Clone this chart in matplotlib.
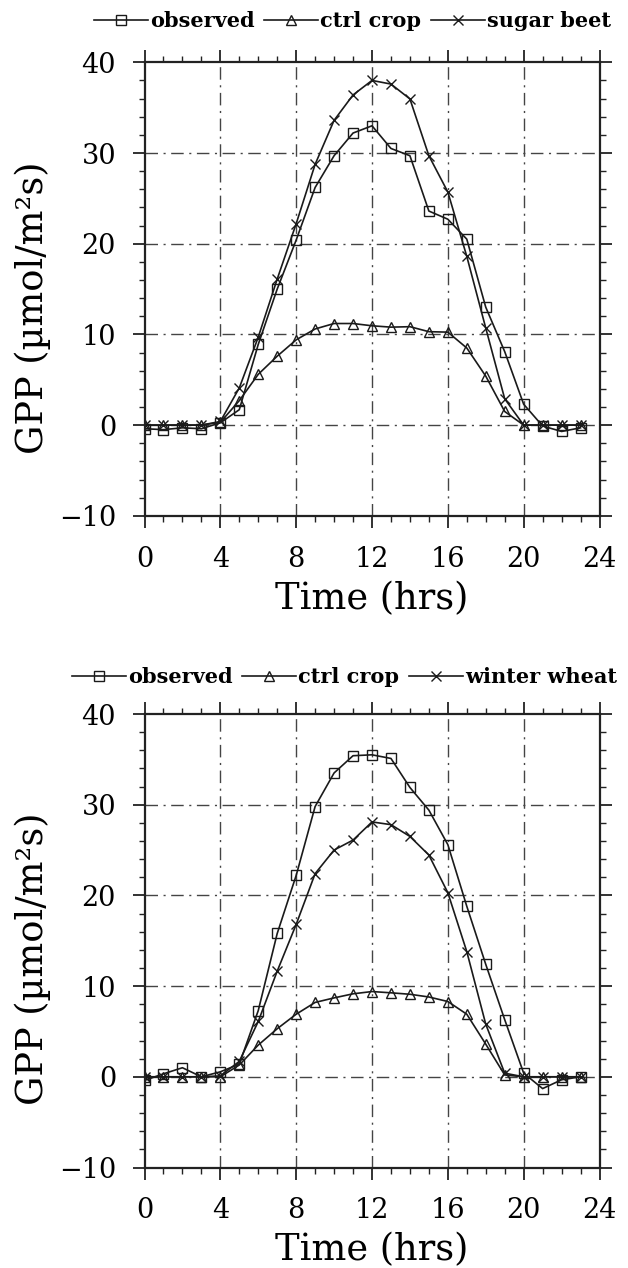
import numpy as np
import matplotlib
matplotlib.use("Agg")
import matplotlib.pyplot as plt
from matplotlib.ticker import MultipleLocator

# hourly values
hours = list(range(24))

obs_top = [-0.4, -0.5, -0.3, -0.4, 0.25, 1.7, 8.9, 15.0, 20.4, 26.2, 29.7, 32.2,
           33.0, 30.5, 29.7, 23.6, 22.7, 20.5, 13.0, 8.1, 2.3, -0.1, -0.7, -0.3]
ctrl_top = [0, 0, 0, 0, 0.3, 2.7, 5.6, 7.6, 9.4, 10.6, 11.2, 11.2,
            10.95, 10.8, 10.85, 10.3, 10.25, 8.5, 5.4, 1.5, 0, 0, 0, 0]
beet = [0, 0, 0, 0, 0.4, 4.1, 9.7, 16.1, 22.2, 28.75, 33.6, 36.4,
        38.0, 37.6, 35.96, 29.7, 25.7, 18.6, 10.7, 2.9, 0, 0, 0, 0]

obs_bot = [-0.4, 0.33, 1.0, 0.0, 0.55, 1.4, 7.3, 15.8, 22.2, 29.8, 33.5, 35.4,
           35.5, 35.1, 31.9, 29.4, 25.6, 18.8, 12.4, 6.3, 0.4, -1.3, -0.33, 0.0]
ctrl_bot = [0, 0, 0, 0, 0, 1.3, 3.5, 5.3, 6.9, 8.2, 8.7, 9.15,
            9.4, 9.26, 9.1, 8.8, 8.3, 6.9, 3.6, 0.2, 0, 0, 0, 0]
wheat = [0, 0, 0, 0, 0.1, 1.7, 6.1, 11.65, 16.8, 22.4, 25.0, 26.1,
         28.1, 27.8, 26.5, 24.45, 20.3, 13.8, 5.8, 0.4, 0, 0, 0, 0]

panels = [
    (obs_top, ctrl_top, beet, "sugar beet"),
    (obs_bot, ctrl_bot, wheat, "winter wheat"),
]

plt.rcParams['font.family'] = ['DejaVu Serif']

W, H = 628, 1268
fig = plt.figure(figsize=(W / 100, H / 100), dpi=100)

ax_left, ax_w = 144.5 / W, 455.0 / W
ax_h = 453.5 / H
tops = [62.3, 714.0]
legend_y = [21, 677]
legend_x = [611, 617]

line_kw = dict(color='#1a1a1a', lw=1.2, mfc='none', mec='#1a1a1a', mew=1.0)

for i, (obs, ctrl, crop, crop_name) in enumerate(panels):
    top_px = tops[i]
    ax = fig.add_axes([ax_left, 1 - (top_px + 453.5) / H, ax_w, ax_h])

    ax.plot(hours, obs, marker='s', ms=6.5, label='observed', **line_kw)
    ax.plot(hours, ctrl, marker='^', ms=7, label='ctrl crop', **line_kw)
    ax.plot(hours, crop, marker='x', ms=7.5, label=crop_name, **line_kw)

    ax.set_xlim(0, 24)
    ax.set_ylim(-10, 40)
    ax.xaxis.set_major_locator(MultipleLocator(4))
    ax.xaxis.set_minor_locator(MultipleLocator(1))
    ax.yaxis.set_major_locator(MultipleLocator(10))
    ax.yaxis.set_minor_locator(MultipleLocator(2))

    # dash-dot grid only inside the frame
    for gx in [4, 8, 12, 16, 20]:
        ax.axvline(gx, color='#444444', lw=1.0, dashes=(9, 4, 1.5, 4), zorder=0.5)
    for gy in [0, 10, 20, 30]:
        ax.axhline(gy, color='#444444', lw=1.0, dashes=(9, 4, 1.5, 4), zorder=0.5)

    for sp in ax.spines.values():
        sp.set_linewidth(1.6)
        sp.set_color('#222222')

    ax.tick_params(which='both', direction='out', top=True, right=True,
                   color='#222222', labelsize=19.5)
    ax.tick_params(which='major', length=8.5, width=1.3)
    ax.tick_params(which='minor', length=4.5, width=1.0)
    ax.tick_params(axis='x', which='major', pad=13)
    ax.tick_params(axis='y', which='major', pad=12)
    ax.set_yticks([-10, 0, 10, 20, 30, 40])
    ax.set_yticklabels(['\u221210', '0', '10', '20', '30', '40'])

    axes_bottom = top_px + 453.5
    fig.text(33 / W, 1 - (top_px + 245) / H, 'GPP (\u00b5mol/m\u00b2s)',
             rotation=90, ha='center', va='center', fontsize=26.5)
    fig.text(372 / W, 1 - (axes_bottom + 83) / H, 'Time (hrs)',
             ha='center', va='center', fontsize=26.5)

    handles, labels = ax.get_legend_handles_labels()
    fig.legend(handles, labels, loc='center right', ncol=3, frameon=False,
               bbox_to_anchor=(legend_x[i] / W, 1 - legend_y[i] / H),
               prop={'weight': 'bold', 'size': 15}, handlelength=2.6,
               handletextpad=0.1, columnspacing=0.45, borderpad=0,
               borderaxespad=0)

fig.savefig('out.png', dpi=100)
